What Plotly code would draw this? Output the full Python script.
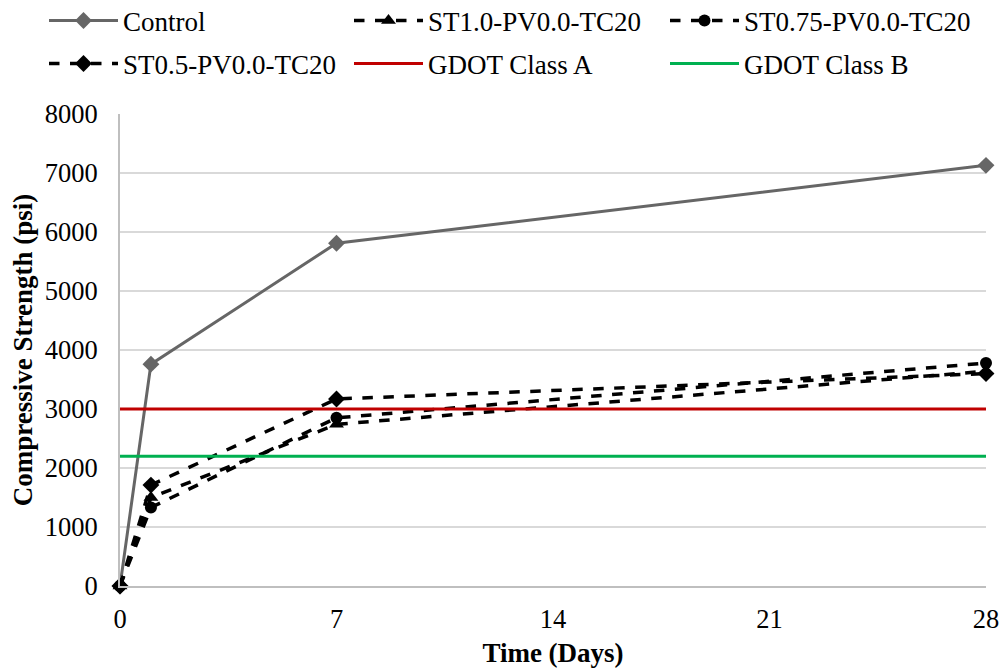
import plotly.graph_objects as go

# Curing age in days
days = [0, 1, 7, 28]

# Compressive strength (psi) by mix
control = [0, 3760, 5810, 7130]
st10 = [0, 1500, 2740, 3640]
st075 = [0, 1330, 2850, 3780]
st05 = [0, 1710, 3170, 3600]

# GDOT minimum strength requirements (psi)
gdot_a = 3000
gdot_b = 2200
x_span = [0, 28]

x_ticks = [0, 7, 14, 21, 28]
y_ticks = [0, 1000, 2000, 3000, 4000, 5000, 6000, 7000, 8000]

FONT = "Liberation Serif"
TICK_SIZE = 26.5
TITLE_SIZE = 27
LEGEND_SIZE = 27

# One single-entry legend per slot: (legend id, left x px, row centre y px)
slots = [
    ("legend", 44, 21), ("legend2", 349, 21), ("legend3", 665, 21),
    ("legend4", 44, 64), ("legend5", 349, 64), ("legend6", 665, 64),
]

fig = go.Figure()

fig.add_trace(go.Scatter(
    x=days, y=control, name="Control", mode="lines+markers", legend="legend",
    line=dict(color="#666666", width=3),
    marker=dict(symbol="diamond", size=13, color="#666666"),
))
fig.add_trace(go.Scatter(
    x=days, y=st10, name="ST1.0-PV0.0-TC20", mode="lines+markers", legend="legend2",
    line=dict(color="black", width=3.5, dash="dash"),
    marker=dict(symbol="triangle-up", size=13, color="black"),
))
fig.add_trace(go.Scatter(
    x=days, y=st075, name="ST0.75-PV0.0-TC20", mode="lines+markers", legend="legend3",
    line=dict(color="black", width=3.5, dash="dash"),
    marker=dict(symbol="circle", size=12, color="black"),
))
fig.add_trace(go.Scatter(
    x=days, y=st05, name="ST0.5-PV0.0-TC20", mode="lines+markers", legend="legend4",
    line=dict(color="black", width=3.5, dash="dash"),
    marker=dict(symbol="diamond", size=13, color="black"),
))
fig.add_trace(go.Scatter(
    x=x_span, y=[gdot_a, gdot_a], name="GDOT Class A", mode="lines", legend="legend5",
    line=dict(color="#C00000", width=3),
))
fig.add_trace(go.Scatter(
    x=x_span, y=[gdot_b, gdot_b], name="GDOT Class B", mode="lines", legend="legend6",
    line=dict(color="#00B050", width=3),
))

fig.update_traces(cliponaxis=False)

W, H = 1001, 670
legends = {}
for key, px, py in slots:
    legends[key] = dict(
        orientation="h", xref="container", yref="container",
        xanchor="left", yanchor="middle",
        x=px / W, y=1 - py / H,
        itemwidth=69,
        font=dict(family=FONT, size=LEGEND_SIZE, color="black"),
        bgcolor="rgba(0,0,0,0)",
    )

fig.update_layout(
    width=W, height=H,
    margin=dict(l=120, r=15, t=114, b=84),
    paper_bgcolor="white", plot_bgcolor="white",
    font=dict(family=FONT, size=TICK_SIZE, color="black"),
    showlegend=True,
    **legends,
)

# Fixed margins keep the plot area in place regardless of label offsets
fig.update_xaxes(
    range=[0, 28], tickvals=x_ticks, showgrid=False,
    showline=True, linecolor="#bfbfbf", linewidth=2,
    ticks="", zeroline=False, ticklabelstandoff=8, automargin=False,
    tickfont=dict(family=FONT, size=TICK_SIZE, color="black"),
    title=dict(text="<b>Time (Days)</b>", font=dict(family=FONT, size=TITLE_SIZE, color="black"), standoff=10),
)
fig.update_yaxes(
    range=[0, 8000], tickvals=y_ticks, showgrid=True,
    gridcolor="#d9d9d9", gridwidth=2,
    showline=True, linecolor="#bfbfbf", linewidth=2,
    ticks="", zeroline=False, ticklabelstandoff=15, automargin=False,
    tickfont=dict(family=FONT, size=TICK_SIZE, color="black"),
    title=dict(text="<b>Compressive Strength (psi)</b>", font=dict(family=FONT, size=TITLE_SIZE, color="black"), standoff=4),
)

fig.write_html("out.html")
